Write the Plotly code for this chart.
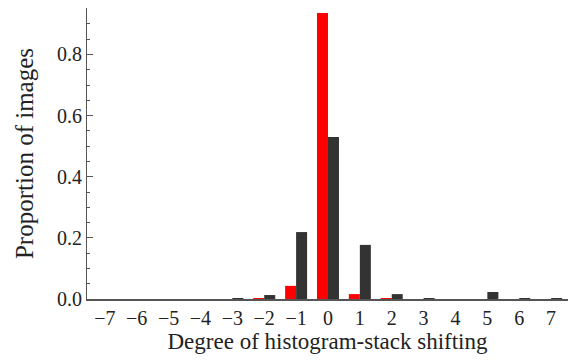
import plotly.graph_objects as go

shifts = list(range(-7, 8))
tick_labels = [("\u2212" + str(-s)) if s < 0 else str(s) for s in shifts]
red_vals = [0, 0, 0, 0, 0, 0.0004, 0.043, 0.936, 0.016, 0.0004, 0, 0, 0, 0, 0]
dark_vals = [0, 0, 0, 0, 0.003, 0.013, 0.219, 0.53, 0.177, 0.016, 0.002, 0, 0.023, 0.003, 0.003]

fig = go.Figure()
fig.add_trace(go.Bar(x=shifts, y=red_vals, marker=dict(color="#ff0000", line=dict(width=0)), name="A"))
fig.add_trace(go.Bar(x=shifts, y=dark_vals, marker=dict(color="#333333", line=dict(width=0)), name="B"))

font = "Liberation Serif, Times New Roman, serif"
# page body has an 8px default margin, so the figure is sized/offset to compensate
fig.update_layout(
    width=568, height=352,
    margin=dict(l=79, r=8, t=0, b=61),
    paper_bgcolor="white", plot_bgcolor="white",
    barmode="group", bargap=0.31, bargroupgap=0,
    showlegend=False,
    font=dict(family=font, color="#222222"),
)
fig.update_xaxes(
    range=[-7.56, 7.53], tickmode="array", tickvals=shifts, ticktext=tick_labels,
    showline=True, linecolor="#555555", linewidth=1.5, showgrid=False, zeroline=False,
    ticks="", tickfont=dict(size=20, family=font, color="#222222"), automargin=False,
    title=dict(text="Degree of histogram-stack shifting", font=dict(size=23, family=font, color="#222222"), standoff=0),
)
fig.update_yaxes(
    range=[0, 0.952], tickmode="linear", tick0=0, dtick=0.2, tickformat=".1f",
    showline=True, linecolor="#555555", linewidth=1, showgrid=False, zeroline=False,
    ticks="inside", ticklen=6, tickcolor="#555555", automargin=False,
    minor=dict(dtick=0.05, ticks="inside", ticklen=3, tickcolor="#555555"),
    tickfont=dict(size=20, family=font, color="#222222"),
    title=dict(text="Proportion of images", font=dict(size=25, family=font, color="#222222"), standoff=16),
)
fig.write_html("out.html")
